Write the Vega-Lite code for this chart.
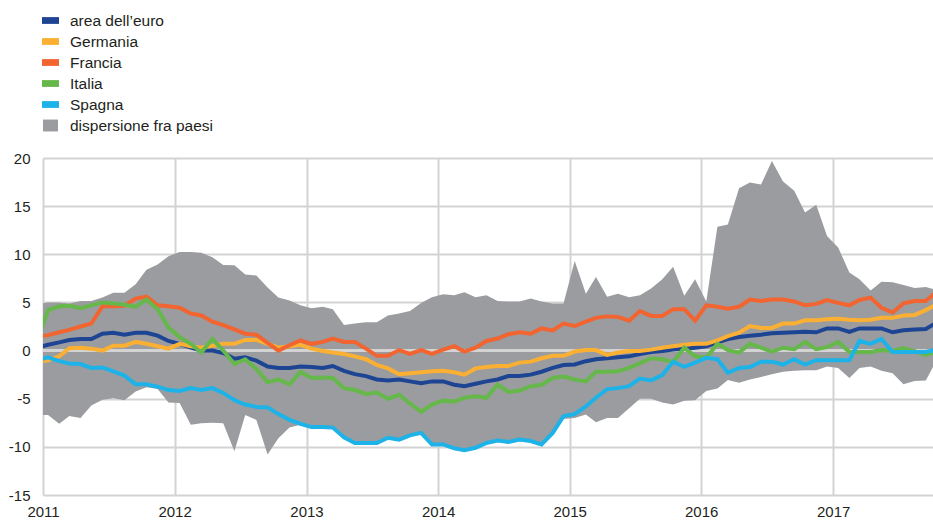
{
  "$schema": "https://vega.github.io/schema/vega-lite/v6.json",
  "width": 890,
  "height": 337,
  "autosize": {"type": "none"},
  "padding": {"left": 43, "top": 158, "right": 0, "bottom": 25},
  "background": "white",
  "config": {
    "view": {"stroke": null},
    "font": "Liberation Sans",
    "axis": {"domain": false, "ticks": false, "gridColor": "#d3d3d3", "gridWidth": 2, "labelFont": "Liberation Sans", "labelFontSize": 15, "labelColor": "#231f20", "title": null},
    "legend": {"orient": "none", "legendX": -1, "legendY": -146, "title": null, "labelFontSize": 15.5, "labelFont": "Liberation Sans", "labelColor": "#231f20", "symbolSize": 289, "symbolType": "M-1,-0.4H1V0.4H-1Z", "rowPadding": 4, "labelOffset": 11, "symbolStrokeWidth": 0, "symbolOpacity": 1}
  },
  "data": {"values": [
    {"d":"2010-12-15","EA":0.3,"DE":-1.2,"FR":1.4,"IT":0.9,"ES":-1.0,"lo":-6.7,"hi":4.8},
    {"d":"2011-01-15","EA":0.6,"DE":-1.0,"FR":1.6,"IT":4.2,"ES":-0.7,"lo":-6.7,"hi":5.0},
    {"d":"2011-02-15","EA":0.85,"DE":-0.6,"FR":1.9,"IT":4.6,"ES":-1.1,"lo":-7.6,"hi":5.0},
    {"d":"2011-03-15","EA":1.1,"DE":0.25,"FR":2.15,"IT":4.65,"ES":-1.35,"lo":-6.8,"hi":4.9},
    {"d":"2011-04-15","EA":1.2,"DE":0.3,"FR":2.5,"IT":4.4,"ES":-1.4,"lo":-7.0,"hi":5.15},
    {"d":"2011-05-15","EA":1.2,"DE":0.2,"FR":2.8,"IT":4.7,"ES":-1.8,"lo":-5.7,"hi":5.15},
    {"d":"2011-06-15","EA":1.75,"DE":0.0,"FR":4.6,"IT":5.0,"ES":-1.75,"lo":-5.1,"hi":5.5},
    {"d":"2011-07-15","EA":1.85,"DE":0.5,"FR":4.6,"IT":4.9,"ES":-2.15,"lo":-4.95,"hi":6.0},
    {"d":"2011-08-15","EA":1.65,"DE":0.5,"FR":4.65,"IT":4.75,"ES":-2.6,"lo":-5.15,"hi":6.0},
    {"d":"2011-09-15","EA":1.85,"DE":0.9,"FR":5.4,"IT":4.55,"ES":-3.5,"lo":-4.25,"hi":6.9},
    {"d":"2011-10-15","EA":1.85,"DE":0.7,"FR":5.6,"IT":5.3,"ES":-3.5,"lo":-3.8,"hi":8.4},
    {"d":"2011-11-15","EA":1.55,"DE":0.45,"FR":4.7,"IT":4.3,"ES":-3.75,"lo":-4.0,"hi":8.95},
    {"d":"2011-12-15","EA":1.0,"DE":0.2,"FR":4.6,"IT":2.4,"ES":-4.1,"lo":-5.4,"hi":9.8},
    {"d":"2012-01-15","EA":0.7,"DE":0.7,"FR":4.45,"IT":1.4,"ES":-4.2,"lo":-5.45,"hi":10.25},
    {"d":"2012-02-15","EA":0.3,"DE":0.45,"FR":3.85,"IT":0.7,"ES":-3.9,"lo":-7.7,"hi":10.25},
    {"d":"2012-03-15","EA":0.0,"DE":0.3,"FR":3.65,"IT":-0.2,"ES":-4.1,"lo":-7.55,"hi":10.15},
    {"d":"2012-04-15","EA":0.0,"DE":0.5,"FR":3.0,"IT":1.2,"ES":-3.9,"lo":-7.5,"hi":9.7},
    {"d":"2012-05-15","EA":-0.25,"DE":0.7,"FR":2.65,"IT":0.0,"ES":-4.4,"lo":-7.55,"hi":8.9},
    {"d":"2012-06-15","EA":-0.85,"DE":0.7,"FR":2.2,"IT":-1.4,"ES":-5.15,"lo":-10.45,"hi":8.85},
    {"d":"2012-07-15","EA":-0.7,"DE":1.1,"FR":1.75,"IT":-0.9,"ES":-5.6,"lo":-6.7,"hi":7.9},
    {"d":"2012-08-15","EA":-1.05,"DE":1.1,"FR":1.65,"IT":-1.9,"ES":-5.85,"lo":-7.2,"hi":7.8},
    {"d":"2012-09-15","EA":-1.65,"DE":0.7,"FR":0.8,"IT":-3.3,"ES":-5.9,"lo":-10.8,"hi":6.55},
    {"d":"2012-10-15","EA":-1.8,"DE":0.3,"FR":0.0,"IT":-3.0,"ES":-6.6,"lo":-9.1,"hi":5.5},
    {"d":"2012-11-15","EA":-1.8,"DE":0.45,"FR":0.55,"IT":-3.5,"ES":-7.2,"lo":-8.0,"hi":5.2},
    {"d":"2012-12-15","EA":-1.65,"DE":0.6,"FR":1.05,"IT":-2.2,"ES":-7.6,"lo":-7.7,"hi":4.7},
    {"d":"2013-01-15","EA":-1.7,"DE":0.2,"FR":0.7,"IT":-2.85,"ES":-7.95,"lo":-8.05,"hi":4.4},
    {"d":"2013-02-15","EA":-1.8,"DE":-0.05,"FR":0.9,"IT":-2.8,"ES":-7.95,"lo":-8.1,"hi":4.55},
    {"d":"2013-03-15","EA":-1.6,"DE":-0.2,"FR":1.25,"IT":-2.85,"ES":-8.0,"lo":-8.15,"hi":4.3},
    {"d":"2013-04-15","EA":-2.1,"DE":-0.35,"FR":0.9,"IT":-3.9,"ES":-9.0,"lo":-9.15,"hi":2.65},
    {"d":"2013-05-15","EA":-2.45,"DE":-0.6,"FR":0.9,"IT":-4.1,"ES":-9.6,"lo":-9.75,"hi":2.8},
    {"d":"2013-06-15","EA":-2.65,"DE":-0.9,"FR":0.2,"IT":-4.5,"ES":-9.6,"lo":-9.75,"hi":2.95},
    {"d":"2013-07-15","EA":-3.0,"DE":-1.5,"FR":-0.55,"IT":-4.35,"ES":-9.6,"lo":-9.75,"hi":2.95},
    {"d":"2013-08-15","EA":-3.1,"DE":-1.85,"FR":-0.55,"IT":-5.0,"ES":-9.05,"lo":-9.2,"hi":3.65},
    {"d":"2013-09-15","EA":-3.0,"DE":-2.45,"FR":0.05,"IT":-4.6,"ES":-9.25,"lo":-9.4,"hi":3.85},
    {"d":"2013-10-15","EA":-3.2,"DE":-2.35,"FR":-0.35,"IT":-5.5,"ES":-8.8,"lo":-8.95,"hi":4.1},
    {"d":"2013-11-15","EA":-3.4,"DE":-2.25,"FR":0.05,"IT":-6.35,"ES":-8.55,"lo":-8.7,"hi":4.95},
    {"d":"2013-12-15","EA":-3.2,"DE":-2.15,"FR":-0.35,"IT":-5.6,"ES":-9.75,"lo":-9.9,"hi":5.55},
    {"d":"2014-01-15","EA":-3.2,"DE":-2.1,"FR":0.1,"IT":-5.2,"ES":-9.75,"lo":-9.9,"hi":5.85},
    {"d":"2014-02-15","EA":-3.55,"DE":-2.25,"FR":0.45,"IT":-5.3,"ES":-10.15,"lo":-10.3,"hi":5.75},
    {"d":"2014-03-15","EA":-3.7,"DE":-2.5,"FR":-0.1,"IT":-4.9,"ES":-10.35,"lo":-10.5,"hi":6.05},
    {"d":"2014-04-15","EA":-3.45,"DE":-1.85,"FR":0.3,"IT":-4.75,"ES":-10.1,"lo":-10.25,"hi":5.55},
    {"d":"2014-05-15","EA":-3.2,"DE":-1.7,"FR":1.0,"IT":-4.9,"ES":-9.6,"lo":-9.75,"hi":5.75},
    {"d":"2014-06-15","EA":-3.0,"DE":-1.6,"FR":1.25,"IT":-3.55,"ES":-9.35,"lo":-9.5,"hi":5.15},
    {"d":"2014-07-15","EA":-2.65,"DE":-1.6,"FR":1.7,"IT":-4.3,"ES":-9.5,"lo":-9.65,"hi":5.1},
    {"d":"2014-08-15","EA":-2.65,"DE":-1.25,"FR":1.9,"IT":-4.15,"ES":-9.25,"lo":-9.4,"hi":5.1},
    {"d":"2014-09-15","EA":-2.5,"DE":-1.15,"FR":1.75,"IT":-3.7,"ES":-9.4,"lo":-9.55,"hi":5.4},
    {"d":"2014-10-15","EA":-2.2,"DE":-0.8,"FR":2.3,"IT":-3.55,"ES":-9.75,"lo":-9.9,"hi":5.1},
    {"d":"2014-11-15","EA":-1.8,"DE":-0.55,"FR":2.1,"IT":-2.85,"ES":-8.55,"lo":-8.7,"hi":4.9},
    {"d":"2014-12-15","EA":-1.5,"DE":-0.55,"FR":2.8,"IT":-2.7,"ES":-6.8,"lo":-7.1,"hi":4.9},
    {"d":"2015-01-15","EA":-1.45,"DE":-0.1,"FR":2.55,"IT":-3.0,"ES":-6.6,"lo":-7.0,"hi":9.3},
    {"d":"2015-02-15","EA":-1.1,"DE":0.05,"FR":3.0,"IT":-3.2,"ES":-5.8,"lo":-6.65,"hi":5.9},
    {"d":"2015-03-15","EA":-0.9,"DE":0.05,"FR":3.4,"IT":-2.2,"ES":-4.9,"lo":-7.45,"hi":7.65},
    {"d":"2015-04-15","EA":-0.8,"DE":-0.45,"FR":3.55,"IT":-2.2,"ES":-4.0,"lo":-7.0,"hi":5.6},
    {"d":"2015-05-15","EA":-0.7,"DE":-0.2,"FR":3.5,"IT":-2.15,"ES":-3.9,"lo":-7.0,"hi":5.9},
    {"d":"2015-06-15","EA":-0.6,"DE":-0.05,"FR":3.1,"IT":-1.8,"ES":-3.7,"lo":-6.0,"hi":5.55},
    {"d":"2015-07-15","EA":-0.35,"DE":-0.05,"FR":4.1,"IT":-1.3,"ES":-2.9,"lo":-5.0,"hi":5.75},
    {"d":"2015-08-15","EA":-0.15,"DE":0.1,"FR":3.6,"IT":-0.8,"ES":-3.1,"lo":-5.0,"hi":6.45},
    {"d":"2015-09-15","EA":-0.05,"DE":0.3,"FR":3.6,"IT":-0.9,"ES":-2.55,"lo":-5.4,"hi":7.4},
    {"d":"2015-10-15","EA":0.1,"DE":0.45,"FR":4.3,"IT":-1.2,"ES":-1.15,"lo":-5.6,"hi":8.7},
    {"d":"2015-11-15","EA":0.2,"DE":0.6,"FR":4.3,"IT":0.3,"ES":-1.7,"lo":-5.2,"hi":5.7},
    {"d":"2015-12-15","EA":0.3,"DE":0.7,"FR":3.1,"IT":-0.6,"ES":-1.25,"lo":-5.15,"hi":7.4},
    {"d":"2016-01-15","EA":0.45,"DE":0.7,"FR":4.7,"IT":-0.75,"ES":-0.75,"lo":-4.2,"hi":5.1},
    {"d":"2016-02-15","EA":0.85,"DE":1.05,"FR":4.55,"IT":0.7,"ES":-0.9,"lo":-3.95,"hi":12.85},
    {"d":"2016-03-15","EA":1.2,"DE":1.5,"FR":4.35,"IT":0.05,"ES":-2.3,"lo":-3.05,"hi":13.1},
    {"d":"2016-04-15","EA":1.4,"DE":1.85,"FR":4.55,"IT":-0.2,"ES":-1.8,"lo":-3.35,"hi":16.85},
    {"d":"2016-05-15","EA":1.55,"DE":2.55,"FR":5.3,"IT":0.7,"ES":-1.7,"lo":-3.0,"hi":17.45},
    {"d":"2016-06-15","EA":1.65,"DE":2.35,"FR":5.15,"IT":0.3,"ES":-1.15,"lo":-2.75,"hi":17.25},
    {"d":"2016-07-15","EA":1.8,"DE":2.35,"FR":5.3,"IT":-0.1,"ES":-1.15,"lo":-2.45,"hi":19.7},
    {"d":"2016-08-15","EA":1.85,"DE":2.8,"FR":5.3,"IT":0.3,"ES":-1.45,"lo":-2.2,"hi":17.55},
    {"d":"2016-09-15","EA":1.9,"DE":2.8,"FR":5.1,"IT":0.15,"ES":-0.9,"lo":-2.1,"hi":16.6},
    {"d":"2016-10-15","EA":1.95,"DE":3.15,"FR":4.7,"IT":0.9,"ES":-1.45,"lo":-2.05,"hi":14.35},
    {"d":"2016-11-15","EA":1.9,"DE":3.15,"FR":4.85,"IT":0.15,"ES":-1.0,"lo":-2.05,"hi":15.15},
    {"d":"2016-12-15","EA":2.3,"DE":3.25,"FR":5.25,"IT":0.35,"ES":-1.0,"lo":-1.65,"hi":11.9},
    {"d":"2017-01-15","EA":2.3,"DE":3.3,"FR":4.95,"IT":0.9,"ES":-1.0,"lo":-1.8,"hi":10.7},
    {"d":"2017-02-15","EA":1.95,"DE":3.2,"FR":4.7,"IT":-0.15,"ES":-1.0,"lo":-2.85,"hi":8.1},
    {"d":"2017-03-15","EA":2.3,"DE":3.15,"FR":5.25,"IT":-0.15,"ES":1.0,"lo":-1.8,"hi":7.4},
    {"d":"2017-04-15","EA":2.3,"DE":3.2,"FR":5.5,"IT":-0.15,"ES":0.7,"lo":-1.65,"hi":6.25},
    {"d":"2017-05-15","EA":2.3,"DE":3.4,"FR":4.45,"IT":0.05,"ES":1.2,"lo":-2.1,"hi":7.15},
    {"d":"2017-06-15","EA":1.9,"DE":3.4,"FR":3.95,"IT":-0.05,"ES":-0.15,"lo":-2.35,"hi":7.1},
    {"d":"2017-07-15","EA":2.1,"DE":3.65,"FR":4.9,"IT":0.25,"ES":-0.15,"lo":-3.5,"hi":6.8},
    {"d":"2017-08-15","EA":2.2,"DE":3.7,"FR":5.15,"IT":-0.05,"ES":-0.15,"lo":-3.15,"hi":6.5},
    {"d":"2017-09-15","EA":2.25,"DE":4.2,"FR":5.15,"IT":-0.45,"ES":-0.15,"lo":-3.1,"hi":6.6},
    {"d":"2017-10-15","EA":2.9,"DE":4.8,"FR":6.1,"IT":-0.1,"ES":0.1,"lo":-1.0,"hi":6.3}
  ]},
  "layer": [
    {
      "mark": {"type": "area", "clip": true, "opacity": 1},
      "encoding": {
        "x": {"field": "d", "type": "temporal", "scale": {"type": "utc", "domain": ["2011-01-01", "2017-10-05"]},
              "axis": {"format": "%Y", "formatType": "utc", "tickCount": {"interval": "year", "step": 1}, "labelFlush": false, "labelPadding": 9, "grid": true}},
        "y": {"field": "lo", "type": "quantitative", "scale": {"domain": [-15, 20], "nice": false},
              "axis": {"values": [-15, -10, -5, 0, 5, 10, 15, 20], "labelExpr": "toString(datum.value)", "labelPadding": 13, "grid": true}},
        "y2": {"field": "hi"},
        "color": {"datum": "DISP", "type": "nominal", "title": null,
          "scale": {"domain": ["EA", "DE", "FR", "IT", "ES", "DISP"], "range": ["#1d4594", "#fbb033", "#f26430", "#65b849", "#1db3e8", "#9a9c9f"]},
          "legend": {"title": null,
            "labelExpr": "datum.value === 'EA' ? 'area dell’euro' : datum.value === 'DE' ? 'Germania' : datum.value === 'FR' ? 'Francia' : datum.value === 'IT' ? 'Italia' : datum.value === 'ES' ? 'Spagna' : 'dispersione fra paesi'",
            "encode": {"symbols": {"update": {"fill": {"scale": "color", "field": "value"}, "stroke": {"value": "transparent"}, "shape": {"signal": "datum.value === 'DISP' ? 'M-0.88,-0.7H0.88V0.7H-0.88Z' : 'M-1,-0.4H1V0.4H-1Z'"}}}}}
        }
      }
    },
    {
      "mark": {"type": "rule", "color": "#d3d3d3", "strokeWidth": 2},
      "encoding": {"y": {"datum": 0, "type": "quantitative"}}
    },
    {
      "transform": [{"fold": ["EA", "DE", "FR", "IT", "ES"], "as": ["k", "val"]}],
      "mark": {"type": "line", "strokeWidth": 4, "clip": true, "strokeJoin": "miter"},
      "encoding": {
        "x": {"field": "d", "type": "temporal"},
        "y": {"field": "val", "type": "quantitative"},
        "color": {"field": "k", "type": "nominal", "title": null}
      }
    }
  ]
}
